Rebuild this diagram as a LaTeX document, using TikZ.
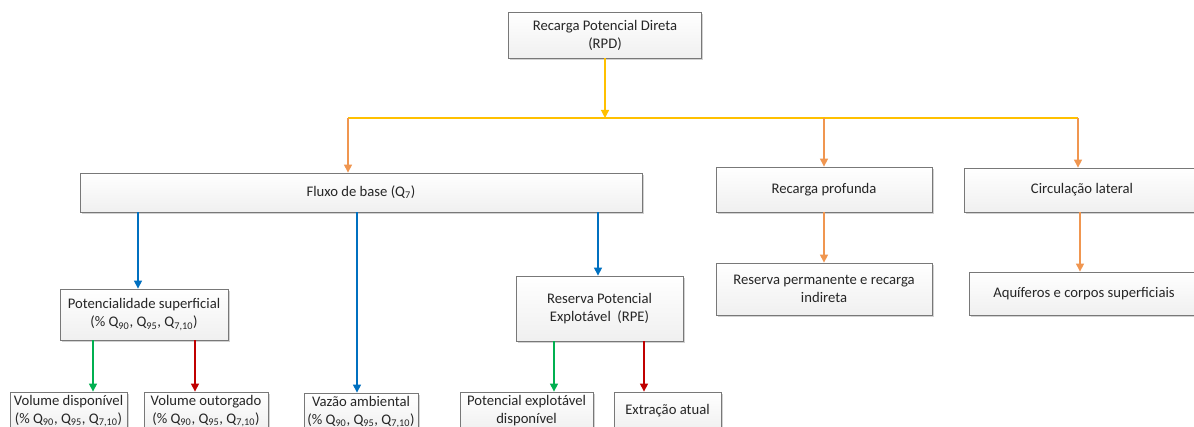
\documentclass[tikz,border=0pt]{standalone}
\usepackage{fontspec}
\setmainfont{Carlito}
\usetikzlibrary{arrows.meta,shadows}

\definecolor{boxline}{RGB}{120,120,120}
\definecolor{yellowline}{RGB}{255,192,0}
\definecolor{orangeline}{RGB}{240,150,80}
\definecolor{blueline}{RGB}{0,112,192}
\definecolor{greenline}{RGB}{0,176,80}
\definecolor{redline}{RGB}{192,0,0}

\newcommand{\qs}{(\% Q\textsubscript{90}, Q\textsubscript{95}, Q\textsubscript{7,10})}

\begin{document}
\begin{tikzpicture}[x=0.75pt,y=-0.75pt,
    box/.style={draw=boxline,line width=0.6pt,top color=white,bottom color=gray!12,
      drop shadow={shadow xshift=1.2pt,shadow yshift=-1.2pt,opacity=0.35},
      align=center,inner sep=1pt,text=black!85,font=\fontsize{11}{13.5}\selectfont},
    link/.style={line width=0.9pt,-{Triangle[width=6pt,length=6pt]}}]

        \clip (0,0) rectangle (1194,427);
        \fill[white] (0,0) rectangle (1194,427);

        % top level
        \node[box, minimum width=193*0.75pt, minimum height=46*0.75pt] (rpd) at (605, 35) {Recarga Potencial Direta\\(RPD)};

        % second level
        \node[box, minimum width=562*0.75pt, minimum height=39*0.75pt] (fluxo) at (361, 192.5) {Fluxo de base (Q\textsubscript{7})};
        \node[box, minimum width=216*0.75pt, minimum height=45*0.75pt] (profunda) at (824, 189.5) {Recarga profunda};
        \node[box, minimum width=236*0.75pt, minimum height=44*0.75pt] (lateral) at (1082, 190) {Circulação lateral};

        % third level
        \node[box, minimum width=168*0.75pt, minimum height=51*0.75pt] (potsup) at (144, 314.5) {Potencialidade superficial\\\qs};
        \node[box, minimum width=167*0.75pt, minimum height=65*0.75pt] (rpe) at (599.5, 308.5) {Reserva Potencial\\Explotável~~(RPE)};
        \node[box, minimum width=216*0.75pt, minimum height=52*0.75pt] (permanente) at (824, 289) {Reserva permanente e recarga\\indireta};
        \node[box, minimum width=230*0.75pt, minimum height=43*0.75pt] (aquiferos) at (1084, 293.5) {Aquíferos e corpos superficiais};

        % bottom level
        \node[box, minimum width=117*0.75pt, minimum height=38*0.75pt] (voldisp) at (68.5, 411) {Volume disponível\\\qs};
        \node[box, minimum width=124*0.75pt, minimum height=38*0.75pt] (volout) at (206, 411) {Volume outorgado\\\qs};
        \node[box, minimum width=114*0.75pt, minimum height=38*0.75pt] (vazao) at (361, 412) {Vazão ambiental\\\qs};
        \node[box, minimum width=133*0.75pt, minimum height=38*0.75pt] (potexp) at (526.5, 411) {Potencial explotável\\disponível};
        \node[box, minimum width=107*0.75pt, minimum height=38*0.75pt] (extracao) at (667.5, 411) {Extração atual};

        % bar under RPD
        \coordinate (bar)  at (605, 118);
        \coordinate (barL) at (348, 118);
        \coordinate (barM) at (824, 118);
        \coordinate (barR) at (1078, 118);
        \draw[link, yellowline] (rpd) -- (bar);
        \draw[yellowline, line width=0.9pt] (barL) -- (barR);
        \draw[link, orangeline] (barL) -- (barL |- fluxo.north);
        \draw[link, orangeline] (barM) -- (profunda);
        \draw[link, orangeline] (barR) -- (barR |- lateral.north);

        % right branches
        \draw[link, orangeline] (profunda) -- (permanente);
        \draw[link, orangeline] (lateral.south -| 1080,0) -- (aquiferos.north -| 1080,0);

        % fluxo de base
        \draw[link, blueline] (fluxo.south -| 138,0) -- (potsup.north -| 138,0);
        \draw[link, blueline] (fluxo.south -| 357,0) -- (vazao.north -| 357,0);
        \draw[link, blueline] (fluxo.south -| 598,0) -- (rpe.north -| 598,0);

        % potencialidade superficial
        \draw[link, greenline] (potsup.south -| 93,0) -- (voldisp.north -| 93,0);
        \draw[link, redline] (potsup.south -| 195,0) -- (volout.north -| 195,0);

        % reserva potencial explotavel
        \draw[link, greenline] (rpe.south -| 554,0) -- (potexp.north -| 554,0);
        \draw[link, redline] (rpe.south -| 644,0) -- (extracao.north -| 644,0);

    \end{tikzpicture}
\end{document}
